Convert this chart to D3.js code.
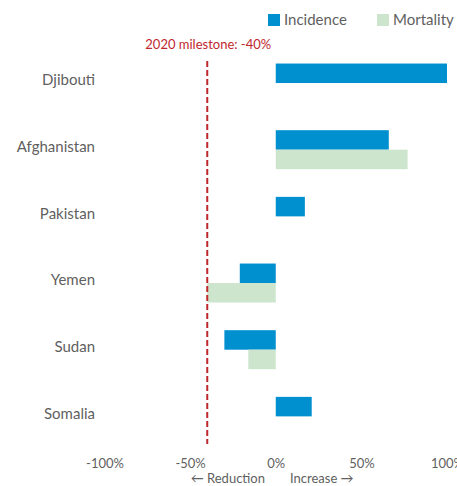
<!DOCTYPE html>
<html><head><meta charset="utf-8">
<script src="https://cdn.jsdelivr.net/npm/d3@7"></script>
<style>body{margin:0;background:#fff}svg{display:block;font-family:Lato,"Open Sans",sans-serif}</style>
</head><body><svg id="c" width="457" height="486"></svg>
<script>
const countries = ["Djibouti","Afghanistan","Pakistan","Yemen","Sudan","Somalia"];
const incidence = [100, 66, 17, -21, -30, 21];
const mortality = [null, 77, null, -40, -16, null];
const series = ["Incidence","Mortality"];
const xTicks = [-100,-50,0,50,100];
const milestone = -40;
const milestoneLabel = "2020 milestone: -40%";

const colors = {Incidence:"#008FCF", Mortality:"#CDE5CD"};
const svg = d3.select("#c");
const x = d3.scaleLinear().domain([-100,100]).range([104.5,447]);
const y = d3.scaleBand().domain(countries).range([49.7,449.7]);
const bh = 19.5;
const grey = "#5f5f5f";

// bars
countries.forEach((c,i)=>{
  const cy = y(c)+y.bandwidth()/2;
  [[incidence[i],"Incidence",cy-bh],[mortality[i],"Mortality",cy]].forEach(([v,s,top])=>{
    if(v==null) return;
    svg.append("rect").attr("x",x(Math.min(0,v))).attr("y",top)
      .attr("width",Math.abs(x(v)-x(0))).attr("height",bh).attr("fill",colors[s]);
  });
});

// category labels
svg.append("g").selectAll("text").data(countries).join("text")
  .attr("x",95).attr("y",d=>y(d)+y.bandwidth()/2-3).attr("dy","0.35em")
  .attr("text-anchor","end").attr("font-size",15).attr("fill",grey).text(d=>d);

// x axis
const ax = svg.append("g").attr("transform","translate(0,453)")
  .call(d3.axisBottom(x).tickValues(xTicks).tickFormat(d=>d+"%").tickSize(0).tickPadding(6));
ax.select(".domain").remove();
ax.selectAll("text").attr("font-size",13).attr("fill",grey).attr("font-family",'Lato,"Open Sans",sans-serif');

svg.append("text").attr("x",265).attr("y",483).attr("text-anchor","end")
  .attr("font-size",13).attr("fill",grey).text("\u2190 Reduction");
svg.append("text").attr("x",290).attr("y",483).attr("text-anchor","start")
  .attr("font-size",13).attr("fill",grey).text("Increase \u2192");

// milestone
svg.append("line").attr("x1",x(milestone)).attr("x2",x(milestone)).attr("y1",61).attr("y2",444)
  .attr("stroke","#C0272D").attr("stroke-width",2).attr("stroke-dasharray","6,3");
svg.append("text").attr("x",x(milestone)+1).attr("y",49).attr("text-anchor","middle")
  .attr("font-size",13).attr("fill","#C0272D").text(milestoneLabel);

// legend
const leg = [{s:"Incidence",rx:268,tx:284},{s:"Mortality",rx:377,tx:393}];
leg.forEach(l=>{
  svg.append("rect").attr("x",l.rx).attr("y",14).attr("width",12).attr("height",12).attr("fill",colors[l.s]);
  svg.append("text").attr("x",l.tx).attr("y",20).attr("dy","0.35em").attr("font-size",15).attr("fill",grey).text(l.s);
});
</script></body></html>
